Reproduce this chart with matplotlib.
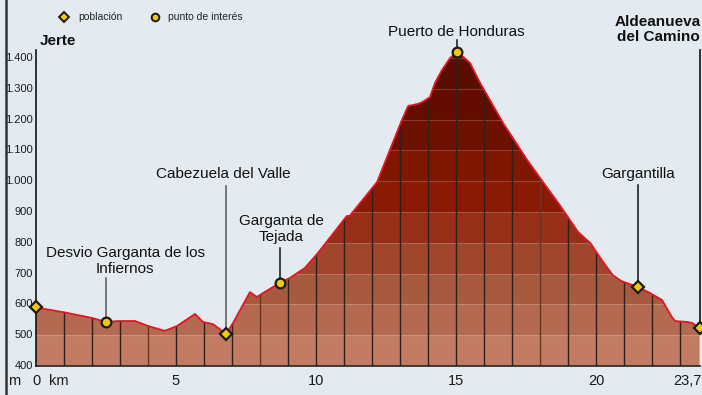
import numpy as np
import matplotlib
matplotlib.use("Agg")
import matplotlib.pyplot as plt
from matplotlib.patches import Polygon
from matplotlib.lines import Line2D

plt.rcParams['font.family'] = ['Liberation Sans', 'DejaVu Sans']

# perfil de la etapa: km / altitud (m)
dist_km = [0.0, 0.96, 2.0, 2.5, 2.93, 3.54, 4.0, 4.6, 5.04, 5.68, 5.96, 6.32, 6.79,
           7.04, 7.64, 7.89, 8.11, 8.71, 9.07, 9.6, 10.07, 11.1, 11.2, 12.18, 13.07,
           13.29, 13.64, 13.8, 14.07, 14.25, 14.5, 14.79, 15.05, 15.5, 15.86, 16.68,
           17.54, 18.18, 18.7, 19.36, 19.8, 20.25, 20.6, 20.9, 21.5, 21.93, 22.36,
           22.46, 22.71, 22.82, 23.25, 23.43, 23.7]
altitud = [590, 575, 556, 543, 546, 546, 530, 514, 530, 569, 543, 536, 504,
           540, 640, 624, 637, 670, 686, 718, 767, 887, 887, 997, 1199,
           1244, 1251, 1257, 1273, 1319, 1361, 1400, 1420, 1384, 1319, 1189,
           1069, 988, 923, 835, 799, 738, 695, 676, 656, 637, 614,
           598, 559, 546, 543, 540, 523]

# lugares: nombre, km, altitud, tipo, altura de la línea, posición del rótulo
lugares = ["Jerte", "Desvio Garganta de los\nInfiernos", "Cabezuela del Valle",
           "Garganta de\nTejada", "Puerto de Honduras", "Gargantilla",
           "Aldeanueva\ndel Camino"]
lugar_km = [0.0, 2.5, 6.79, 8.71, 15.05, 21.5, 23.7]
lugar_alt = [590, 543, 504, 670, 1420, 656, 523]
lugar_tipo = ["poblacion", "punto", "poblacion", "punto", "punto", "poblacion", "poblacion"]
linea_top = [1426, 686, 985, 783, 1458, 988, 1426]
rotulo_x = [0.14, 3.18, 6.68, 8.75, 15.0, 21.5, 22.22]
rotulo_y = [1455, 741, 1023, 845, 1485, 1023, 1492]

y_ticks = [400, 500, 600, 700, 800, 900, 1000, 1100, 1200, 1300, 1400]
y_labels = ["400", "500", "600", "700", "800", "900", "1.000", "1.100", "1.200", "1.300", "1.400"]
x_ticks = [5, 10, 15, 20]

band_colors = ["#c27c64", "#b46a50", "#a85a40", "#a0462c", "#962e18", "#8a1a04",
               "#7e1600", "#6e1000", "#640c00", "#5a0e00", "#4a0800"]

bg = "#e3ebf1"
fig = plt.figure(figsize=(7.02, 3.95), dpi=100, facecolor=bg)
ax = fig.add_axes([0, 0, 1, 1])
ax.set_facecolor(bg)
px_km = 28.0
px_m = 0.308
ax.set_xlim(-36 / px_km, (702 - 36) / px_km)
ax.set_ylim(400 - 29 / px_m, 400 + 366 / px_m)
ax.axis("off")

# polígono del perfil, sirve de máscara para las bandas
poly_pts = [(dist_km[0], 400)] + list(zip(dist_km, altitud)) + [(dist_km[-1], 400)]
perfil = Polygon(poly_pts, closed=True, facecolor="none", edgecolor="none")
ax.add_patch(perfil)

for i, c in enumerate(band_colors):
    lo = 400 + i * 100
    band = ax.fill_between([0, 23.7], lo, lo + 100, color=c, lw=0, zorder=1)
    band.set_clip_path(perfil)
    if i > 0:
        sep, = ax.plot([0, 23.7], [lo, lo], color="white", alpha=0.18, lw=0.8, zorder=2)
        sep.set_clip_path(perfil)

# líneas de cada km
for k in range(1, 24):
    col = "#6b3524" if k in (4, 8, 18) else "#2e201c"
    ln, = ax.plot([k, k], [400, 1500], color=col, lw=1.0, zorder=3)
    ln.set_clip_path(perfil)

ax.plot(dist_km, altitud, color="#e8141e", lw=1.3, zorder=4)

# ejes
ax.plot([0, 0], [400, 1426], color="#111111", lw=1.2, zorder=5)
ax.plot([0, 23.7], [400, 400], color="#222222", lw=1.2, zorder=5)

# líneas y marcadores de lugares
for i in range(len(lugares)):
    if 0 < i < 6:
        lc = "#555555" if i in (1, 2) else "#111111"
        ax.plot([lugar_km[i], lugar_km[i]], [lugar_alt[i], linea_top[i]], color=lc, lw=1.1, zorder=5)
    if i == 6:
        ax.plot([lugar_km[i], lugar_km[i]], [lugar_alt[i], linea_top[i]], color="#111111", lw=1.2, zorder=5)
    mk = "D" if lugar_tipo[i] == "poblacion" else "o"
    ms = 6 if mk == "D" else 7
    ax.plot(lugar_km[i], lugar_alt[i], marker=mk, ms=ms, mfc="#f5c800", mec="#1a1a1a", mew=1.6, zorder=6)
    ha = "left" if i == 0 else "center"
    ax.text(rotulo_x[i], rotulo_y[i], lugares[i], ha=ha, va="center", fontsize=11,
            fontweight="bold" if i in (0, 6) else "normal", color="#111111",
            linespacing=1.12, zorder=7)

# rótulos de los ejes
ty = 400 - 15 / px_m
for t, lab in zip(y_ticks, y_labels):
    ax.text(-3 / px_km, t, lab, ha="right", va="center", fontsize=8, color="#1a1a1a")
for t in x_ticks:
    ax.text(t, ty, str(t), ha="center", va="center", fontsize=10.5, color="#1a1a1a")
ax.text(0, ty, "0", ha="center", va="center", fontsize=10.5, color="#1a1a1a")
ax.text(13 / px_km, ty, "km", ha="left", va="center", fontsize=10.5, color="#1a1a1a")
ax.text(-22 / px_km, ty, "m", ha="center", va="center", fontsize=10.5, color="#1a1a1a")
ax.text(23.25, ty, "23,7", ha="center", va="center", fontsize=10.5, color="#1a1a1a")

# leyenda
ly = 400 + (366 - 17) / px_m
ax.plot(28 / px_km, ly, marker="D", ms=5, mfc="#f5c800", mec="#1a1a1a", mew=1.4)
ax.text(42 / px_km, ly, "población", ha="left", va="center", fontsize=7.5, color="#222222")
ax.plot(119 / px_km, ly, marker="o", ms=5.5, mfc="#f5c800", mec="#1a1a1a", mew=1.4)
ax.text(132 / px_km, ly, "punto de interés", ha="left", va="center", fontsize=7.5, color="#222222")

# borde izquierdo
fig.add_artist(Line2D([5.5 / 702, 5.5 / 702], [0, 1], color="#333333", lw=1.8))

fig.savefig("out.png", dpi=100, facecolor=bg)
